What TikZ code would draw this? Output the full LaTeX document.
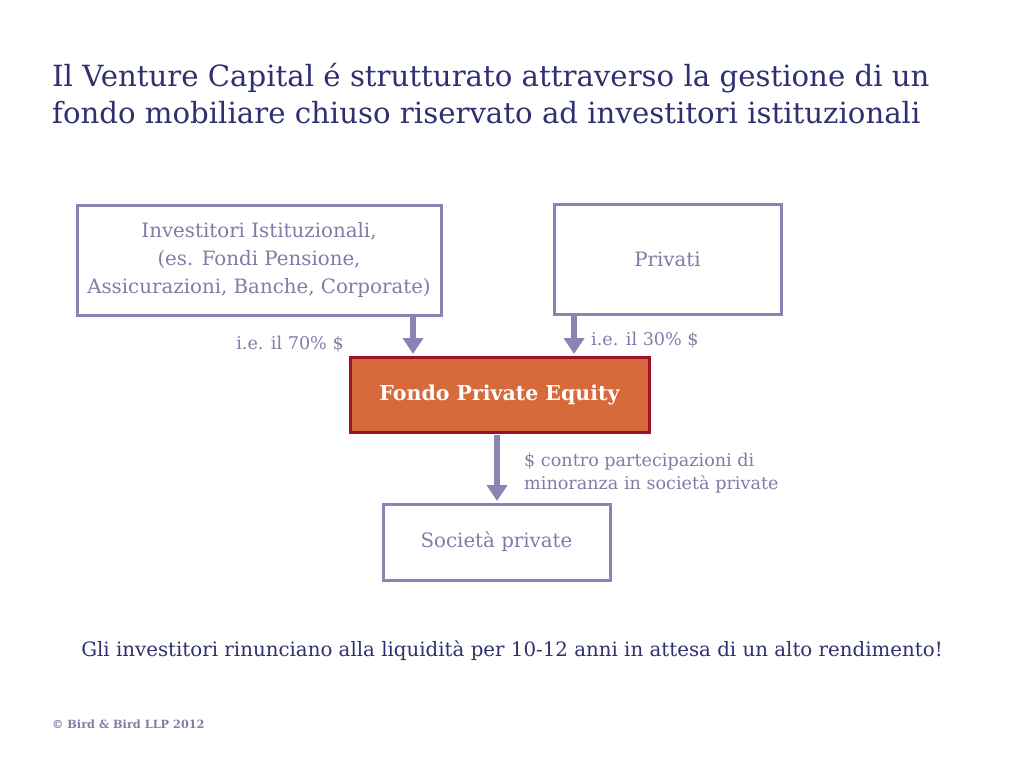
\documentclass[tikz,border=0pt]{standalone}
\usepackage{fontspec}
\setmainfont{DejaVu Serif}
\usetikzlibrary{arrows.meta}
\definecolor{titlecol}{RGB}{46,48,112}
\definecolor{boxline}{RGB}{136,132,180}
\definecolor{boxtext}{RGB}{128,124,168}
\definecolor{fondofill}{RGB}{214,106,58}
\definecolor{fondoline}{RGB}{160,16,40}
\tikzset{
  plainbox/.style={draw=boxline, line width=3pt, fill=white, text=boxtext, align=center,
    inner sep=0pt, font=\fontsize{19.8}{28}\selectfont},
  fondobox/.style={draw=fondoline, line width=3pt, fill=fondofill, text=white, align=center,
    inner sep=0pt, font=\fontsize{20.5}{28}\selectfont\bfseries},
  flow/.style={draw=boxline, line width=6pt, -{Triangle[width=20pt,length=16pt]}},
  lbl/.style={text=boxtext, font=\fontsize{17.6}{23}\selectfont, inner sep=0pt, align=left},
}
\begin{document}
\begin{tikzpicture}[x=1pt,y=-1pt]
\useasboundingbox (0,0) rectangle (1024,768);
\node[anchor=west, text=titlecol, align=left, inner sep=0pt, font=\fontsize{29.2}{37}\selectfont] (title) at (52,94)
  {Il Venture Capital é strutturato attraverso la gestione di un\\fondo mobiliare chiuso riservato ad investitori istituzionali};
\node[plainbox, minimum width=364pt, minimum height=110pt] (inv) at (259,260)
  {Investitori Istituzionali,\\(es. Fondi Pensione,\\Assicurazioni, Banche, Corporate)};
\node[plainbox, minimum width=227pt, minimum height=110pt] (priv) at (667.5,259) {Privati};
\node[fondobox, minimum width=299pt, minimum height=75pt] (fondo) at (499.5,394.5) {Fondo Private Equity};
\node[plainbox, minimum width=227pt, minimum height=76pt] (soc) at (496.5,542) {Società private};
\coordinate (xa) at (413,0);
\coordinate (xb) at (574,0);
\coordinate (xc) at (497,0);
\draw[flow] ([yshift=1.5pt]inv.south -| xa) -- ([yshift=1.5pt]fondo.north -| xa);
\draw[flow] ([yshift=1.5pt]priv.south -| xb) -- ([yshift=1.5pt]fondo.north -| xb);
\draw[flow] ([yshift=-1.5pt]fondo.south -| xc) -- ([yshift=1.5pt]soc.north -| xc);
\node[lbl, anchor=center] (l70) at (290,344) {i.e. il 70\% \$};
\node[lbl, anchor=west] (l30) at (591,340) {i.e. il 30\% \$};
\node[lbl, anchor=west] (lc) at (524,473) {\$ contro partecipazioni di\\minoranza in società private};
\node[text=titlecol, inner sep=0pt, font=\fontsize{19.8}{24}\selectfont] (note) at (512,651)
  {Gli investitori rinunciano alla liquidità per 10-12 anni in attesa di un alto rendimento!};
\node[anchor=west, text=boxtext, inner sep=0pt, font=\fontsize{11.3}{13}\selectfont\bfseries] (copy) at (52,724)
  {© Bird \& Bird LLP 2012};
\end{tikzpicture}
\end{document}
